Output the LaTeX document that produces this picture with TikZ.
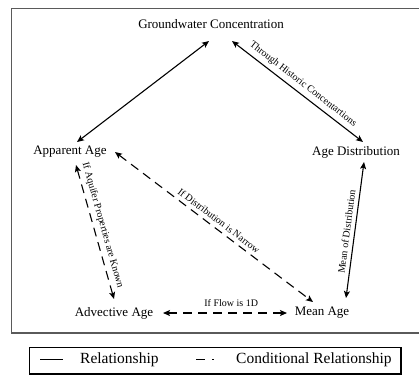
\documentclass[tikz,border=0pt]{standalone}
\usepackage{fontspec}
\setmainfont{Liberation Serif}
\usetikzlibrary{arrows.meta,calc}
\definecolor{framegray}{RGB}{90,90,90}
\tikzset{
  concept/.style={inner sep=0pt, font=\fontsize{13}{15}\selectfont},
  rel/.style={line width=1.1pt, {Stealth[length=7pt,width=6pt,inset=1.5pt]}-{Stealth[length=7pt,width=6pt,inset=1.5pt]}},
  condrel/.style={rel, dash pattern=on 9pt off 6pt},
  lab/.style={font=\fontsize{10}{12}\selectfont, sloped, above=3pt, inner sep=1pt},
  legtext/.style={font=\fontsize{15.5}{18}\selectfont, anchor=west, inner sep=0pt}
}
\begin{document}
\begin{tikzpicture}[x=1pt,y=-1pt]
\useasboundingbox (0,0) rectangle (419,376);
% outer frame (right side runs off the picture)
\draw[framegray, line width=1.2pt] (419,8.5) -- (11.5,8.5) -- (11.5,333) -- (419,333);

\node[concept] (GC)   at (211,24)  {Groundwater Concentration};
\node[concept] (AA)   at (70,152)  {Apparent Age};
\node[concept] (AD)   at (356,152) {Age Distribution};
\node[concept] (AdvA) at (114,313) {Advective Age};
\node[concept] (MA)   at (322,313) {Mean Age};

\draw[rel] ($(GC)+(-2,17)$) -- ($(AA)+(7,-10)$);
\draw[rel] ($(GC)+(21,17)$) -- node[lab, pos=0.5] {Through Historic Concentartions} ($(AD)+(7,-10)$);
\draw[rel] ($(AD)+(8,10)$) -- node[lab, pos=0.52] {Mean of Distribution} ($(MA)+(24,-15)$);
\draw[condrel] ($(AA)+(6,13)$) -- node[lab, pos=0.47] {If Aquifer Properties are Known} ($(AdvA)+(0,-14)$);
\draw[condrel] ($(AA)+(45,0)$) -- node[lab, pos=0.5] {If Distribution is Narrow} ($(MA)+(-9,-11)$);
\draw[condrel] ($(AdvA)+(49,0)$) -- node[lab, pos=0.55, above=2pt] {If Flow is 1D} ($(MA)+(-35,0)$);

% legend
\draw[line width=1.3pt] (29.5,347.5) rectangle (401,374);
\draw[line width=1.1pt] (40,359.5) -- (63,359.5);
\node[legtext] (l1) at (80,360) {Relationship};
\draw[line width=1.1pt] (196,359.5) -- (205,359.5);
\draw[line width=1.1pt] (212,359.5) -- (214,359.5);
\node[legtext] (l2) at (236,360) {Conditional Relationship};
\end{tikzpicture}
\end{document}
